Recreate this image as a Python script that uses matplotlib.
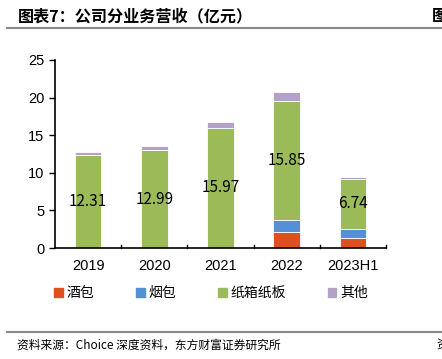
import numpy as np
import matplotlib
matplotlib.use("Agg")
import matplotlib.pyplot as plt
from matplotlib.patches import Rectangle
from matplotlib.lines import Line2D

plt.rcParams['font.family'] = ['Noto Sans CJK SC', 'DejaVu Sans']

# data (亿元)
years = ["2019", "2020", "2021", "2022", "2023H1"]
jiubao = [0, 0, 0, 2.17, 1.37]
yanbao = [0, 0, 0, 1.56, 1.12]
zhixiang = [12.31, 12.99, 15.97, 15.85, 6.74]
qita = [0.45, 0.6, 0.78, 1.1, 0.27]
series_names = ["酒包", "烟包", "纸箱纸板", "其他"]
colors = ["#E0501E", "#5590D6", "#9BBB59", "#B3A2C7"]

fig = plt.figure(figsize=(4.42, 3.59), dpi=100)
ax = fig.add_axes([0.1244, 0.309, 0.7489, 0.524])

x = np.arange(len(years))
bottom = np.zeros(len(years))
for vals, c in zip([jiubao, yanbao, zhixiang, qita], colors):
    ax.bar(x, vals, 0.4, bottom=bottom, color=c, edgecolor="white", linewidth=0.6)
    if vals is zhixiang:
        for i, v in enumerate(vals):
            ax.text(x[i], bottom[i] + v / 2, f"{v:.2f}", ha="center", va="center",
                    fontsize=11, color="black")
    bottom = bottom + np.array(vals)

ax.set_xlim(-0.5, 4.5)
ax.set_ylim(0, 25)
ax.set_yticks([0, 5, 10, 15, 20, 25])
ax.tick_params(axis="y", labelsize=10.5, length=4, width=1, direction="out")
ax.set_xticks(x)
ax.set_xticklabels(years, fontsize=10.5)
ax.tick_params(axis="x", length=0, pad=8)
for lab in ax.get_xticklabels() + ax.get_yticklabels():
    lab.set_family("Liberation Sans")
for b in np.arange(0.5, 5, 1):
    ax.plot([b, b], [0, 0.35], color="black", lw=1, clip_on=False)
for s in ["top", "right"]:
    ax.spines[s].set_visible(False)
ax.spines["left"].set_linewidth(1.2)
ax.spines["bottom"].set_linewidth(1.2)

# legend
handles = [Rectangle((0, 0), 1, 1, color=c) for c in colors]
fig.legend(handles, series_names, loc="center", bbox_to_anchor=(0.478, 0.183), ncol=4,
           frameon=False, fontsize=10, handlelength=0.6, handleheight=0.6,
           handletextpad=0.3, columnspacing=3.0)

# title and footer
fig.text(0.041, 0.955, "图表7：公司分业务营收（亿元）", fontsize=11.6, fontweight="bold",
         ha="left", va="center")
fig.text(0.978, 0.955, "图", fontsize=11.6, fontweight="bold", ha="left", va="center")
fig.add_artist(Line2D([0.015, 1.0], [0.922, 0.922], color="#888888", lw=1.5))
fig.add_artist(Line2D([0.015, 1.0], [0.076, 0.076], color="#888888", lw=1.5))
fig.text(0.038, 0.038, "资料来源：Choice 深度资料，东方财富证券研究所", fontsize=8.5,
         ha="left", va="center")
fig.text(0.987, 0.038, "资", fontsize=8.5, ha="left", va="center")

fig.savefig("out.png", dpi=100)
